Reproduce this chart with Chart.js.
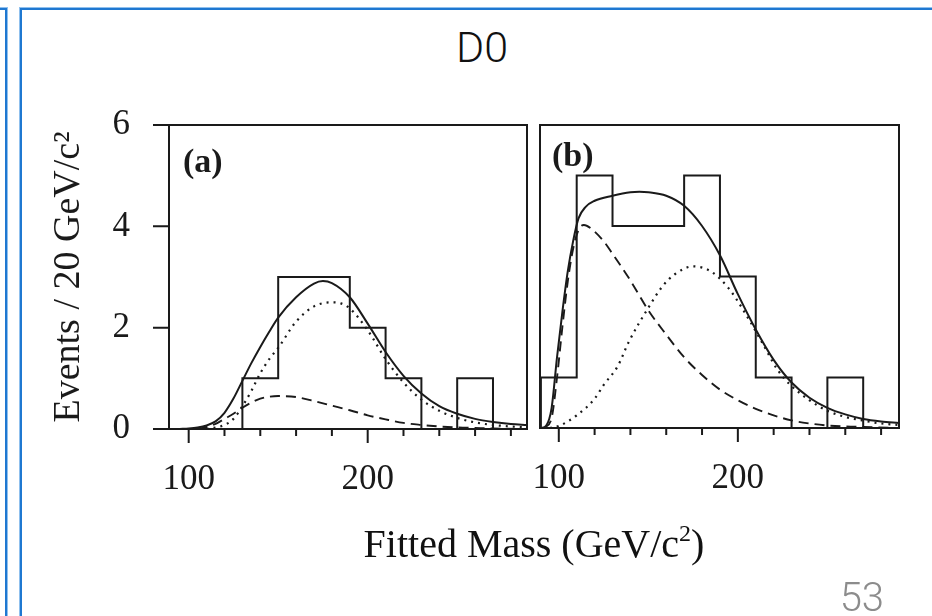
<!DOCTYPE html>
<html>
<head>
<meta charset="utf-8">
<script src="https://cdn.jsdelivr.net/npm/chart.js@4.4.1/dist/chart.umd.min.js"></script>
<style>
  html, body { margin: 0; padding: 0; background: #fff; }
  body { width: 932px; height: 616px; position: relative; overflow: hidden; }
  .slide { position: absolute; box-sizing: border-box; border: 2px solid #1f78d1; box-shadow: 0 0 0 1px #8fc0ee; }
  #prev { left: -200px; top: 8px; width: 207px; height: 700px; }
  #cur { left: 20px; top: 8px; width: 1000px; height: 700px; }
  .wrap { position: absolute; left: 0; top: 0; width: 932px; height: 616px; }
  #title { position: absolute; left: 382px; width: 200px; top: 22px; text-align: center;
           font: 300 43px Roboto, Lato, sans-serif; color: #111; }
  #xtitle { position: absolute; left: 284px; width: 500px; top: 520px; text-align: center;
            font: 40px "Liberation Serif", "DejaVu Serif", serif; color: #111; }
  #xtitle sup { font-size: 24px; vertical-align: 16px; line-height: 0; }
  #page { position: absolute; left: 800px; width: 84px; top: 574px; text-align: right;
          font: 300 40px Roboto, Lato, sans-serif; color: #8c8c8c; }
</style>
</head>
<body>
<div class="slide" id="prev"></div>
<div class="slide" id="cur"></div>
<div id="title">D0</div>
<div class="wrap"><canvas id="chartA" width="932" height="616"></canvas></div>
<div class="wrap"><canvas id="chartB" width="932" height="616"></canvas></div>
<div id="xtitle">Fitted Mass (GeV/c<sup>2</sup>)</div>
<div id="page">53</div>
<script>
// bin edges and counts (20 GeV bins)
const edgesA = [130, 150, 170, 190, 210, 230, 250, 270];
const countsA = [1, 3, 3, 2, 1, 0, 1];
const edgesB = [90, 110, 130, 150, 170, 190, 210, 230, 250, 270];
const countsB = [1, 5, 4, 4, 5, 3, 1, 0, 1];

// fit curves, panel (a)
const massFitA = [95, 100, 105, 110, 115, 120, 125, 130, 135, 140, 145, 150, 160, 170, 175, 180, 190, 200, 210, 220, 230, 240, 250, 260, 270, 280, 289];
const totalA = [0.0, 0.01, 0.03, 0.07, 0.15, 0.32, 0.6, 0.95, 1.3, 1.62, 1.92, 2.2, 2.6, 2.87, 2.92, 2.88, 2.6, 2.08, 1.52, 1.05, 0.7, 0.45, 0.3, 0.2, 0.14, 0.1, 0.08];
const massSigA = [110, 120, 125, 130, 135, 140, 145, 150, 160, 170, 180, 185, 190, 200, 210, 220, 230, 240, 250, 260, 270, 280, 289];
const signalA = [0.0, 0.08, 0.2, 0.45, 0.75, 1.1, 1.38, 1.6, 2.12, 2.42, 2.5, 2.48, 2.38, 1.95, 1.38, 0.92, 0.58, 0.36, 0.22, 0.13, 0.08, 0.05, 0.03];
const massBkgA = [105, 110, 115, 120, 125, 130, 135, 140, 150, 160, 170, 180, 190, 200, 210, 220, 230, 240, 250, 260, 270, 289];
const backgroundA = [0.0, 0.04, 0.1, 0.2, 0.3, 0.42, 0.52, 0.6, 0.65, 0.63, 0.55, 0.46, 0.37, 0.27, 0.19, 0.12, 0.08, 0.05, 0.03, 0.02, 0.01, 0.0];

// fit curves, panel (b)
const massFitB = [90, 93, 96, 99, 102, 105, 108, 111, 115, 120, 130, 140, 145, 150, 160, 170, 180, 190, 200, 210, 220, 230, 240, 250, 260, 270, 280, 290];
const totalB = [0.0, 0.05, 0.4, 1.4, 2.3, 3.1, 3.7, 4.15, 4.38, 4.5, 4.6, 4.67, 4.68, 4.67, 4.6, 4.4, 4.0, 3.42, 2.65, 1.95, 1.35, 0.9, 0.6, 0.4, 0.27, 0.18, 0.13, 0.1];
const massSigB = [95, 100, 110, 120, 125, 133, 139, 150, 158, 165, 175, 185, 195, 205, 215, 222, 230, 240, 250, 260, 271, 280, 290];
const signalB = [0.0, 0.04, 0.25, 0.58, 0.85, 1.23, 1.7, 2.38, 2.81, 3.05, 3.2, 3.1, 2.76, 2.22, 1.6, 1.16, 0.83, 0.55, 0.34, 0.22, 0.14, 0.09, 0.06];
const massBkgB = [92, 96, 99, 102, 105, 108, 111, 114, 118, 125, 130, 140, 150, 160, 170, 180, 190, 200, 210, 220, 230, 240, 250, 260, 270, 290];
const backgroundB = [0.0, 0.2, 1.0, 2.0, 2.9, 3.55, 3.92, 4.02, 3.95, 3.7, 3.45, 2.92, 2.33, 1.85, 1.4, 1.05, 0.76, 0.55, 0.38, 0.25, 0.15, 0.09, 0.05, 0.03, 0.02, 0.0];

const xTicks = [100, 120, 140, 160, 180, 200, 220, 240, 260, 280];
const yTicks = [0, 2, 4, 6];

const ink = '#1a1a1a';
const serif = '"Liberation Serif", "DejaVu Serif", serif';

function toPoints(xs, ys) {
    return xs.map((x, i) => ({ x: x, y: ys[i] }));
}

// histogram outline as a stepped line
function histPoints(edges, counts) {
    const pts = [{ x: edges[0], y: 0 }];
    counts.forEach((c, i) => pts.push({ x: edges[i], y: c }));
    pts.push({ x: edges[edges.length - 1], y: counts[counts.length - 1] });
    pts.push({ x: edges[edges.length - 1], y: 0 });
    return pts;
}

function curve(data, dash, width) {
    return {
        data: data,
        borderColor: ink,
        borderWidth: width,
        borderDash: dash,
        pointRadius: 0,
        cubicInterpolationMode: 'monotone',
        fill: false
    };
}

// frame, tick marks and the (a)/(b) label
const framePlugin = {
    id: 'frame',
    afterDatasetsDraw(chart, args, opts) {
        const { ctx, chartArea: a, scales: { x, y } } = chart;
        ctx.save();
        ctx.strokeStyle = ink;
        ctx.lineWidth = 2;
        ctx.strokeRect(a.left, a.top, a.right - a.left, a.bottom - a.top);
        ctx.beginPath();
        xTicks.forEach(v => {
            const px = x.getPixelForValue(v);
            ctx.moveTo(px, a.bottom);
            ctx.lineTo(px, a.bottom + (v % 100 === 0 ? 14 : 7));
        });
        if (opts.yTicks) {
            yTicks.forEach(v => {
                const py = y.getPixelForValue(v);
                ctx.moveTo(a.left - 16, py);
                ctx.lineTo(a.left, py);
            });
        }
        ctx.stroke();
        ctx.fillStyle = ink;
        ctx.font = 'bold 34px ' + serif;
        ctx.textBaseline = 'alphabetic';
        ctx.fillText(opts.label, a.left + opts.dx, a.top + opts.dy);
        ctx.restore();
    }
};

function makeChart(id, cfg) {
    const ctx = document.getElementById(id).getContext('2d');
    return new Chart(ctx, {
        type: 'line',
        data: {
            datasets: [
                {
                    data: histPoints(cfg.edges, cfg.counts),
                    borderColor: ink,
                    borderWidth: 2,
                    stepped: 'before',
                    pointRadius: 0,
                    fill: false
                },
                curve(toPoints(cfg.massFit, cfg.total), [], 2),
                curve(toPoints(cfg.massSig, cfg.signal), [2, 5], 2.2),
                curve(toPoints(cfg.massBkg, cfg.background), [10, 6], 1.9)
            ]
        },
        options: {
            responsive: false,
            animation: false,
            layout: { padding: cfg.padding },
            plugins: {
                legend: { display: false },
                tooltip: { enabled: false },
                frame: cfg.frame
            },
            scales: {
                x: {
                    type: 'linear',
                    min: cfg.xMin,
                    max: cfg.xMax,
                    afterBuildTicks: s => { s.ticks = xTicks.map(v => ({ value: v })); },
                    afterFit: s => { s.height = 60; },
                    grid: { display: false },
                    border: { display: false },
                    ticks: {
                        autoSkip: false,
                        maxRotation: 0,
                        padding: 22,
                        color: ink,
                        font: { family: serif, size: 35 },
                        callback: v => (v % 100 === 0 ? String(v) : '')
                    }
                },
                y: {
                    display: cfg.showY,
                    min: 0,
                    max: 6,
                    afterBuildTicks: s => { s.ticks = yTicks.map(v => ({ value: v })); },
                    afterFit: s => { s.width = cfg.yWidth; },
                    grid: { display: false },
                    border: { display: false },
                    ticks: {
                        padding: 31,
                        color: ink,
                        font: { family: serif, size: 35 }
                    },
                    title: {
                        display: true,
                        text: 'Events / 20 GeV/c²',
                        color: ink,
                        padding: { top: 46, bottom: 0 },
                        font: { family: serif, size: 38 }
                    }
                }
            }
        },
        plugins: [framePlugin]
    });
}

makeChart('chartA', {
    edges: edgesA, counts: countsA,
    massFit: massFitA, total: totalA,
    massSig: massSigA, signal: signalA,
    massBkg: massBkgA, background: backgroundA,
    xMin: 89, xMax: 289, showY: true, yWidth: 169,
    padding: { left: 0, top: 125, right: 405, bottom: 127 },
    frame: { label: '(a)', dx: 14, dy: 47, yTicks: true }
});

makeChart('chartB', {
    edges: edgesB, counts: countsB,
    massFit: massFitB, total: totalB,
    massSig: massSigB, signal: signalB,
    massBkg: massBkgB, background: backgroundB,
    xMin: 89.5, xMax: 290, showY: false, yWidth: 0,
    padding: { left: 540, top: 125, right: 33, bottom: 128 },
    frame: { label: '(b)', dx: 12, dy: 41, yTicks: false }
});
</script>
</body>
</html>
